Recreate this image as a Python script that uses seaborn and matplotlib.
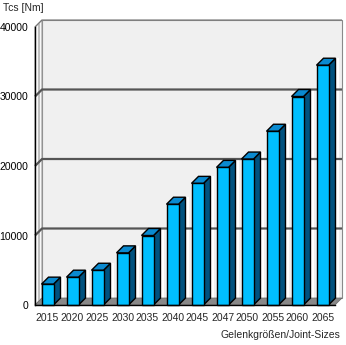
import matplotlib
matplotlib.use("Agg")
import matplotlib.pyplot as plt
import seaborn as sns
import pandas as pd
from matplotlib.patches import Polygon, Rectangle

sizes = ["2015", "2020", "2025", "2030", "2035", "2040", "2045", "2047",
         "2050", "2055", "2060", "2065"]
tcs = [3000, 4000, 5000, 7500, 10000, 14500, 17500, 19800, 21000, 25000, 30000, 34500]
yticks = [0, 10000, 20000, 30000, 40000]

df = pd.DataFrame({"size": sizes, "tcs": tcs})

sns.set_style("white")
plt.rcParams["font.family"] = ["Liberation Sans", "DejaVu Sans"]
FS = 7.5

W, H = 346, 345
fig = plt.figure(figsize=(W / 100, H / 100), dpi=100)
ax = fig.add_axes([35 / W, (H - 305) / H, 300 / W, 278 / H])

YMAX = 40000
n = len(sizes)
px_x = n / 300.0          # data units per pixel (x)
px_y = YMAX / 278.0       # data units per pixel (y)
DX, DY = 7 * px_x, 7 * px_y
BW = 0.48

ax.set_xlim(-0.5, n - 0.5)
ax.set_ylim(0, YMAX)

# back wall
ax.add_patch(Polygon([(-0.5 + DX, DY), (n - 0.5 + DX, DY), (n - 0.5 + DX, YMAX + DY),
                      (-0.5 + DX, YMAX + DY)], closed=True, facecolor="#f0f0f0",
                     edgecolor="#8a8a8a", lw=0.8, clip_on=False, zorder=0.5))
# left wall
ax.add_patch(Polygon([(-0.5, 0), (-0.5 + DX, DY), (-0.5 + DX, YMAX + DY), (-0.5, YMAX)],
                     closed=True, facecolor="#f8f8f8", edgecolor="#9a9a9a", lw=0.8,
                     clip_on=False, zorder=0.6))
ax.plot([-0.5 + DX * 0.5] * 2, [DY * 0.5, YMAX + DY * 0.5], color="#b5b5b5", lw=1.2,
        clip_on=False, zorder=0.7)

# light strips behind bars
for i, v in enumerate(tcs):
    ax.add_patch(Rectangle((i + BW / 2 + DX, DY), 3.5 * px_x, v, facecolor="white",
                           edgecolor="none", clip_on=False, zorder=0.8))

# gridlines
for t in yticks[1:]:
    lw, col = (1.6, "#555555") if t < YMAX else (0.8, "#777777")
    ax.plot([-0.5, -0.5 + DX, n - 0.5 + DX], [t, t + DY, t + DY], color=col, lw=lw,
            clip_on=False, zorder=1, solid_capstyle="butt")

# floor
ax.add_patch(Polygon([(-0.5, 0), (n - 0.5, 0), (n - 0.5 + DX, DY), (-0.5 + DX, DY)],
                     closed=True, facecolor="#888888", edgecolor="#666666", lw=0.5,
                     clip_on=False, zorder=1.5))

# front faces via seaborn
sns.barplot(data=df, x="size", y="tcs", color="#00bfff", saturation=1, width=BW,
            edgecolor="black", linewidth=1.0, ax=ax, zorder=3)
for p in ax.patches:
    p.set_clip_on(False)

# top and side faces
for i, v in enumerate(tcs):
    xl, xr = i - BW / 2, i + BW / 2
    ax.add_patch(Polygon([(xr, 0), (xr + DX, DY), (xr + DX, v + DY), (xr, v)], closed=True,
                         facecolor="#00527f", edgecolor="black", lw=1.0, clip_on=False,
                         zorder=2.5))
    ax.add_patch(Polygon([(xl, v), (xr, v), (xr + DX, v + DY), (xl + DX, v + DY)],
                         closed=True, facecolor="#0a8ad0", edgecolor="black", lw=1.0,
                         clip_on=False, zorder=2.5))

# axes styling
for s in ["top", "right"]:
    ax.spines[s].set_visible(False)
for s in ["left", "bottom"]:
    ax.spines[s].set_color("black")
    ax.spines[s].set_linewidth(1.0)
    ax.spines[s].set_zorder(4)

ax.set_yticks(yticks)
ax.set_yticklabels([str(t) for t in yticks], fontsize=FS)
ax.tick_params(axis="y", length=4, width=1, direction="out", pad=1, colors="black")
ax.set_xticks(range(n))
ax.set_xticklabels(sizes, fontsize=FS)
ax.set_xticks([i - 0.5 for i in range(n + 1)], minor=True)
ax.tick_params(axis="x", which="major", length=0, pad=6)
ax.tick_params(axis="x", which="minor", length=4, width=1, direction="out")
ax.set_xlabel("")
ax.set_ylabel("")

fig.text(3 / W, 1 - 8 / H, "Tcs [Nm]", fontsize=FS, ha="left", va="center")
fig.text(340 / W, 1 - 335 / H, "Gelenkgrößen/Joint-Sizes", fontsize=FS, ha="right",
         va="center")

fig.savefig("out.png", dpi=100)
